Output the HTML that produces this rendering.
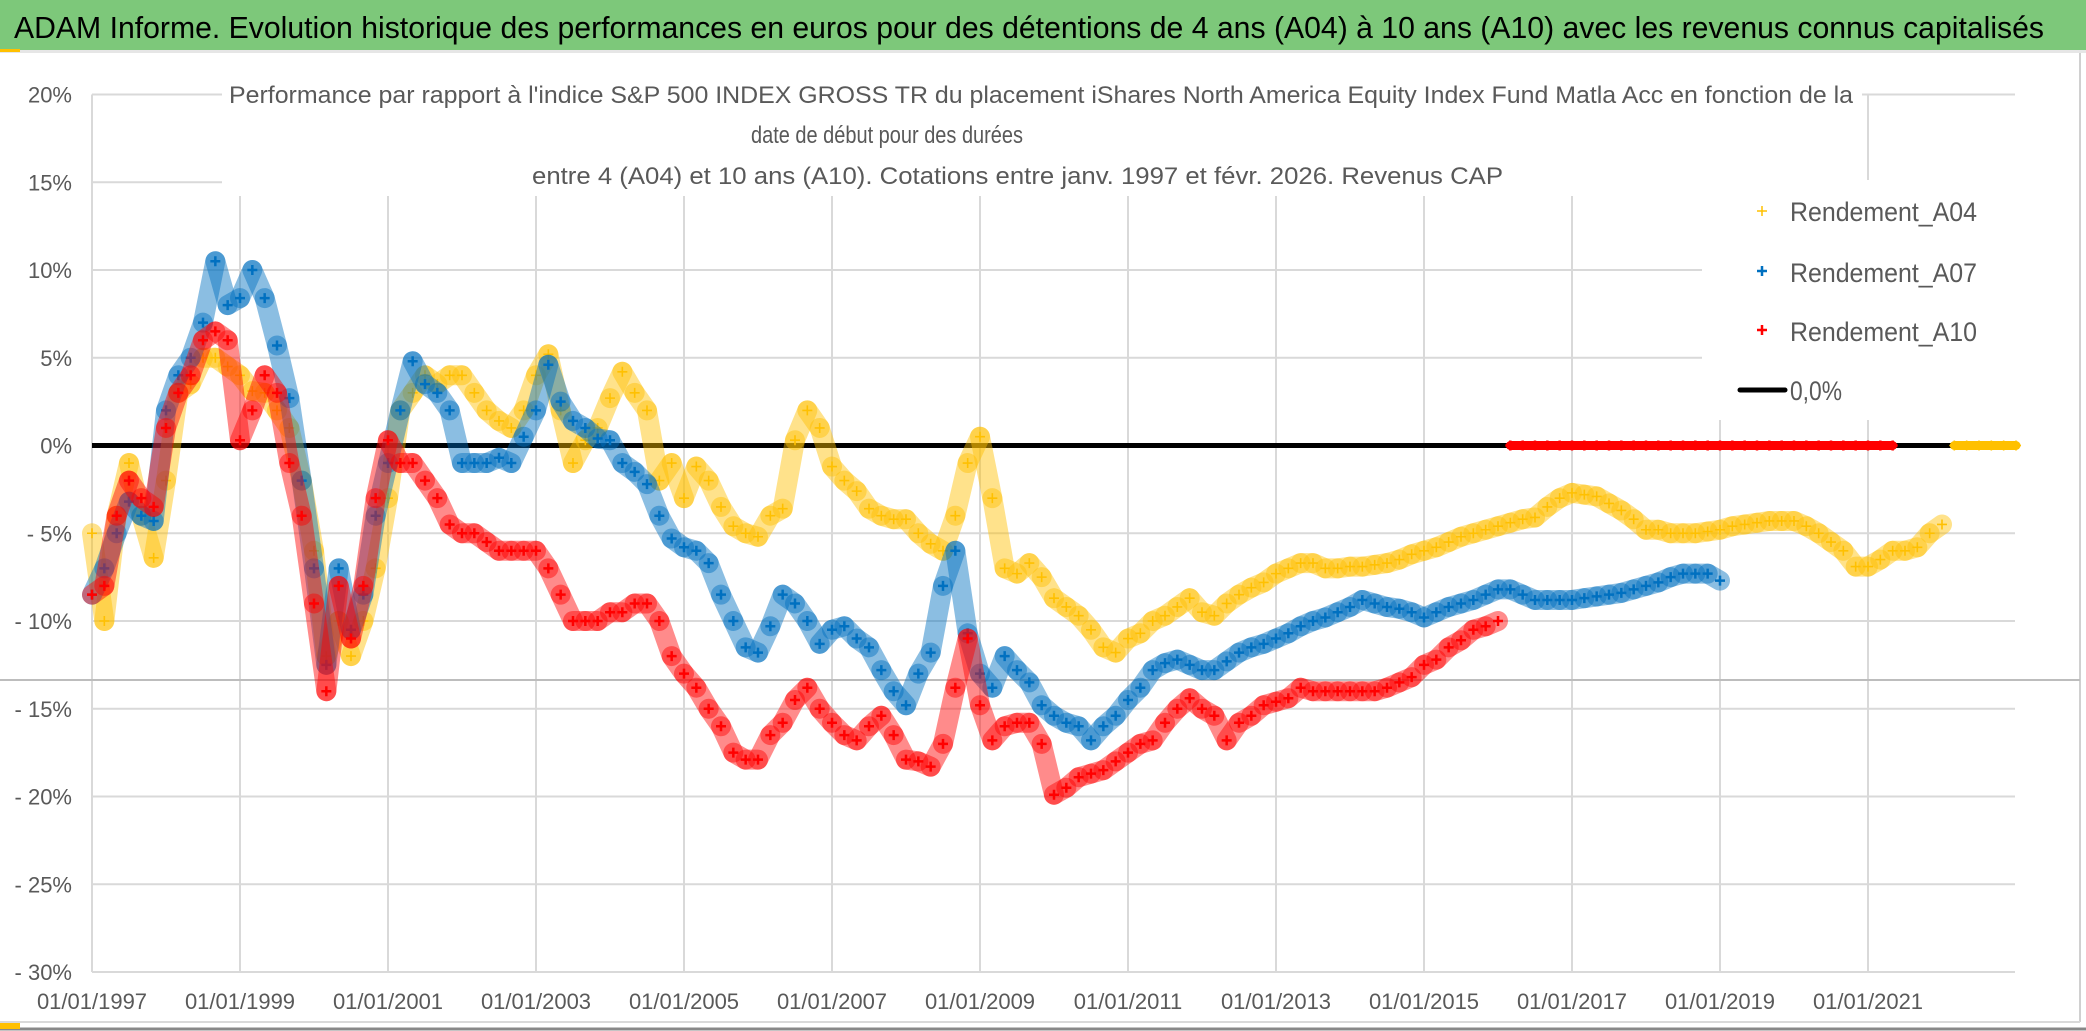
<!DOCTYPE html>
<html><head><meta charset="utf-8">
<style>
html,body{margin:0;padding:0;background:#fff;}
svg{display:block;font-family:"Liberation Sans",sans-serif;}
</style></head>
<body>
<svg id="chart" width="2086" height="1031" viewBox="0 0 2086 1031" xmlns="http://www.w3.org/2000/svg">
  <rect x="0" y="0" width="2086" height="1031" fill="#ffffff"/>
  <rect x="0" y="0" width="2086" height="50" fill="#7DC87A"/>
  <rect x="0" y="50" width="2086" height="3" fill="#e6e6e6"/>
  <rect x="0" y="49" width="20" height="3" fill="#FFC000"/>
  <text x="14" y="38" font-size="31" fill="#000" textLength="2030" lengthAdjust="spacingAndGlyphs">ADAM Informe. Evolution historique des performances en euros pour des détentions de 4 ans (A04) à 10 ans (A10) avec les revenus connus capitalisés</text>
  <line x1="2080" y1="53" x2="2080" y2="1022" stroke="#d0d0d0" stroke-width="2"/>
  <line x1="0" y1="1022" x2="2080" y2="1022" stroke="#d9d9d9" stroke-width="2"/>
  <line x1="0" y1="1029" x2="2086" y2="1029" stroke="#888" stroke-width="3"/>
  <rect x="0" y="1023" width="20" height="6" fill="#FFC000"/>
  <g id="grid"></g>
  <line x1="0" y1="680" x2="2080" y2="680" stroke="#bdbdbd" stroke-width="2"/>
  <g id="axes"></g>
  <g id="series"></g>
  <rect x="222" y="78" width="1640" height="118" fill="#fff"/>
  <g fill="#595959" font-size="24">
    <text x="229" y="103" textLength="1624" lengthAdjust="spacingAndGlyphs">Performance par rapport à l'indice S&amp;P 500 INDEX GROSS TR  du placement iShares North America Equity Index Fund Matla Acc en fonction de la</text>
    <text x="751" y="143" textLength="272" lengthAdjust="spacingAndGlyphs">date de début pour des durées</text>
    <text x="532" y="184" textLength="971" lengthAdjust="spacingAndGlyphs">entre 4 (A04) et 10 ans (A10). Cotations entre janv. 1997 et févr. 2026. Revenus CAP</text>
  </g>
  <g>
    <rect x="1702" y="180" width="314" height="240" fill="#fff"/>
    <g>
      <path d="M1757 211h10M1762 206v10" stroke="#FFC000" stroke-width="1.5"/>
      <text x="1790" y="221" font-size="27" fill="#595959" textLength="187" lengthAdjust="spacingAndGlyphs">Rendement_A04</text>
    </g>
    <g>
      <path d="M1757 271h10M1762 266v10" stroke="#0070C0" stroke-width="2.5"/>
      <text x="1790" y="282" font-size="27" fill="#595959" textLength="187" lengthAdjust="spacingAndGlyphs">Rendement_A07</text>
    </g>
    <g>
      <path d="M1757 330h10M1762 325v10" stroke="#FF0000" stroke-width="2.5"/>
      <text x="1790" y="341" font-size="27" fill="#595959" textLength="187" lengthAdjust="spacingAndGlyphs">Rendement_A10</text>
    </g>
    <g>
      <line x1="1740" y1="390" x2="1785" y2="390" stroke="#000" stroke-width="5" stroke-linecap="round"/>
      <text x="1790" y="400" font-size="27" fill="#595959" textLength="52" lengthAdjust="spacingAndGlyphs">0,0%</text>
    </g>
  </g>
</svg>
<script>
// data: one value every 2 months starting Jan 1997 (percent)
const startYear = 1997;
const pointsPerYear = 6;
const yTicks = [20, 15, 10, 5, 0, -5, -10, -15, -20, -25, -30];
const yTickLabels = ["20%","15%","10%","5%","0%","- 5%","- 10%","- 15%","- 20%","- 25%","- 30%"];
const xTickYears = [1997,1999,2001,2003,2005,2007,2009,2011,2013,2015,2017,2019,2021];
const xTickLabels = ["01/01/1997","01/01/1999","01/01/2001","01/01/2003","01/01/2005","01/01/2007","01/01/2009","01/01/2011","01/01/2013","01/01/2015","01/01/2017","01/01/2019","01/01/2021"];
const rendementA04 = [
 -5,-10,-4,-1,-4,-6.4,  -2,3,3.5,5,5,4.5,  4,3.1,3,2,1,-2,  -6,-12,-10,-12,-10,-7,
 -3,2,3,4,3.5,4,  4,3,2,1.4,1,2,  4,5.2,2,-1,0.3,1,  2.7,4.2,3,2,-2,-1,
 -3,-1.2,-2,-3.5,-4.6,-5,  -5.2,-4,-3.6,0.3,2,1,  -1.2,-2,-2.6,-3.6,-4,-4.2,  -4.2,-5,-5.6,-6,-4,-1,
 0.5,-3,-7,-7.3,-6.7,-7.5,  -8.7,-9.2,-9.7,-10.5,-11.5,-11.8,  -11,-10.7,-10,-9.7,-9.2,-8.7,  -9.5,-9.7,-9,-8.5,-8.1,-7.8,
 -7.3,-7,-6.7,-6.7,-7,-7,  -6.9,-6.9,-6.8,-6.7,-6.5,-6.2,  -6,-5.8,-5.5,-5.2,-5,-4.8,  -4.6,-4.4,-4.2,-4.1,-3.5,-3,
 -2.7,-2.8,-2.9,-3.3,-3.7,-4.2,  -4.8,-4.8,-5,-5,-5,-4.9,  -4.8,-4.6,-4.5,-4.4,-4.3,-4.3,  -4.3,-4.6,-5,-5.5,-6,-6.9,
 -6.9,-6.5,-6,-6,-5.8,-5,  -4.5,0,0,0,0,0,0
];
const rendementA07 = [
 -8.5,-7,-5,-3.2,-4,-4.3,  2,4,5,7,10.5,8,  8.4,10,8.4,5.7,2.7,-2,  -7,-12.5,-7,-10.5,-8.5,-4,
 -1,2,4.8,3.5,3,2,  -1,-1,-1,-0.7,-1,0.5,  2,4.6,2.5,1.4,1,0.4,  0.3,-1,-1.5,-2.2,-4,-5.3,
 -5.8,-6,-6.7,-8.5,-10,-11.5,  -11.8,-10.3,-8.5,-9,-10,-11.3,  -10.5,-10.3,-11,-11.5,-12.8,-14,  -14.8,-13,-11.8,-8,-6,-10.7,
 -13,-13.8,-12,-12.8,-13.5,-14.8,  -15.4,-15.8,-16,-16.8,-16,-15.4,  -14.5,-13.8,-12.8,-12.4,-12.2,-12.5,  -12.8,-12.8,-12.3,-11.8,-11.5,-11.3,
 -11,-10.7,-10.3,-10,-9.8,-9.5,  -9.2,-8.8,-9,-9.2,-9.3,-9.5,  -9.8,-9.5,-9.2,-9,-8.8,-8.5,  -8.2,-8.2,-8.5,-8.8,-8.8,-8.8,
 -8.8,-8.7,-8.6,-8.5,-8.4,-8.2,  -8,-7.8,-7.5,-7.3,-7.3,-7.3,  -7.7
];
const rendementA10 = [
 -8.5,-8,-4,-2,-3,-3.5,  1,3,4,6,6.5,6,  0.3,2,4,3,-1,-4,  -9,-14,-8,-11,-8,-3,
 0.3,-1,-1,-2,-3,-4.5,  -5,-5,-5.5,-6,-6,-6,  -6,-7,-8.5,-10,-10,-10,  -9.5,-9.5,-9,-9,-10,-12,
 -13,-13.8,-15,-16,-17.5,-17.9,  -17.9,-16.5,-15.8,-14.5,-13.8,-15,  -15.8,-16.5,-16.8,-16,-15.4,-16.5,  -17.9,-18,-18.3,-17,-13.8,-11,
 -14.8,-16.8,-16,-15.8,-15.8,-17,  -19.9,-19.5,-18.9,-18.7,-18.5,-18,  -17.5,-17,-16.8,-15.8,-15,-14.4,  -15,-15.4,-16.8,-15.8,-15.4,-14.8,
 -14.6,-14.4,-13.8,-14,-14,-14,  -14,-14,-14,-13.8,-13.5,-13.2,  -12.5,-12.2,-11.5,-11.1,-10.5,-10.3,
 -10,0,0,0,0,0,  0,0,0,0,0,0,  0,0,0,0,0,0,  0,0,0,0,0,0,  0,0,0,0,0,0,  0,0,0
];
const zeroLineRange = [1997, 2023];

const NS = "http://www.w3.org/2000/svg";
const PL = 92, PR = 2015, PT = 94.5, PB = 972;
function xScale(t){ return PL + (t - 1997) * 74; }
function yScale(v){ return 445.5 - v * 17.55; }
function mk(tag, attrs, parent){ const e = document.createElementNS(NS, tag); for (const k in attrs) e.setAttribute(k, attrs[k]); parent.appendChild(e); return e; }

const grid = document.getElementById('grid');
const axes = document.getElementById('axes');
yTicks.forEach((v, i) => {
  const gl = mk('line', {x1: PL, x2: PR, y1: yScale(v), y2: yScale(v), stroke: '#d9d9d9', 'stroke-width': 2}, grid);
  
  
  const t = mk('text', {x: 72, y: yScale(v) + 8, 'text-anchor': 'end', 'font-size': 22, fill: '#595959'}, axes);
  t.textContent = yTickLabels[i];
  
  
});
xTickYears.forEach((yr, i) => {
  const gl = mk('line', {x1: xScale(yr), x2: xScale(yr), y1: PT, y2: PB, stroke: '#d9d9d9', 'stroke-width': 2}, grid);
  
  
  const t = mk('text', {x: xScale(yr), y: 1009, 'text-anchor': 'middle', 'font-size': 22, fill: '#595959'}, axes);
  t.textContent = xTickLabels[i];
  
  
});

const seriesG = document.getElementById('series');
const zl = mk('line', {x1: xScale(zeroLineRange[0]), x2: xScale(zeroLineRange[1]), y1: yScale(0), y2: yScale(0), stroke: '#000', 'stroke-width': 5}, seriesG);



function drawSeries(values, color, name, sw){
  const g = mk('g', {}, seriesG);
  
  
  let tailStart = values.length;
  while (tailStart > 0 && values[tailStart-1] === 0) tailStart--;
  for (let i = 1; i < values.length; i++) {
    const inTail = (i-1) >= tailStart;
    if (!inTail && i >= tailStart) continue;
    const a = values[i-1], b = values[i];
    const t0 = startYear + (i-1)/pointsPerYear, t1 = startYear + i/pointsPerYear;
    mk('line', {x1: xScale(t0), y1: yScale(a), x2: xScale(t1), y2: yScale(b), stroke: color,
      'stroke-width': (inTail ? 9 : 20), 'stroke-linecap': 'round', opacity: (inTail ? 1 : 0.45)}, g);
  }
  values.forEach((v, i) => {
    const t = startYear + i/pointsPerYear;
    const cx = xScale(t), cy = yScale(v);
    const p = mk('path', {d: `M${cx-5} ${cy}h10M${cx} ${cy-5}v10`, stroke: color, 'stroke-width': sw}, g);
    
    
  });
}
drawSeries(rendementA04, '#FFC000', 'series-rendement-a04', 1.6);
drawSeries(rendementA07, '#0070C0', 'series-rendement-a07', 2.5);
drawSeries(rendementA10, '#FF0000', 'series-rendement-a10', 2.5);
</script>
</body></html>
